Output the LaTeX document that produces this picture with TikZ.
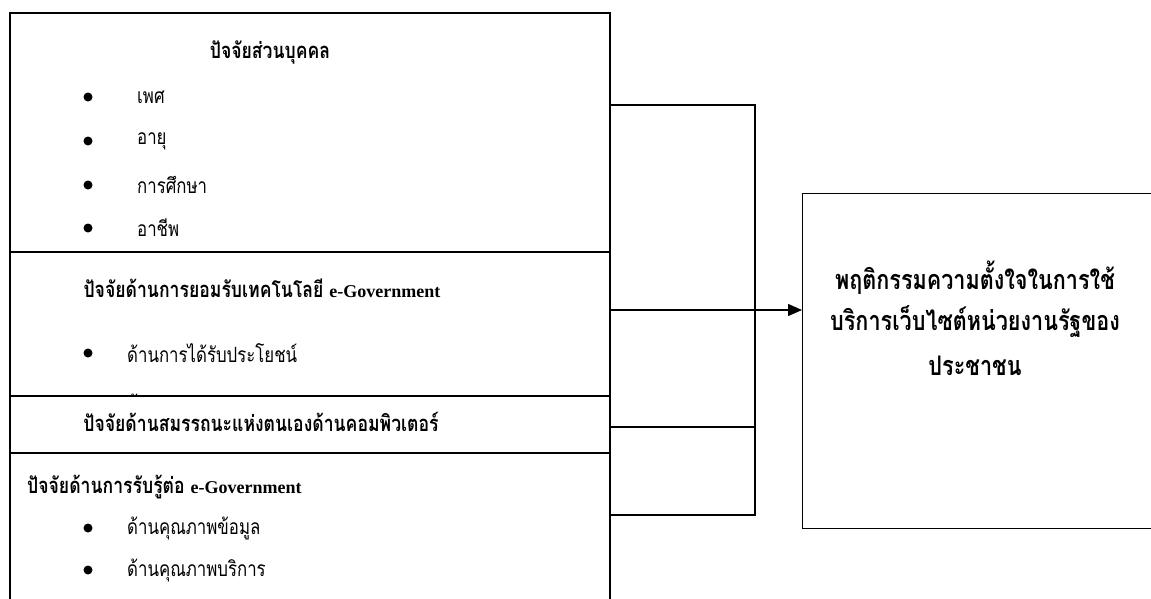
\documentclass[tikz,border=0pt]{standalone}
\usepackage{fontspec}
\setmainfont{Liberation Serif}
\newfontfamily\thai[Script=Thai,FakeStretch=0.8]{Loma}
\usetikzlibrary{arrows.meta}
\newcommand{\eg}{{\normalfont\bfseries\fontsize{18}{21}\selectfont e-Government}}
\begin{document}
\begin{tikzpicture}[x=1pt,y=-1pt,
  ln/.style={line width=1.3pt},
  ttl/.style={font=\thai\bfseries\fontsize{22}{26}\selectfont, inner sep=0},
  big/.style={font=\thai\bfseries\fontsize{27}{32}\selectfont, inner sep=0},
  itm/.style={font=\thai\fontsize{21}{25}\selectfont, anchor=west, inner sep=0},
  dot/.style={circle, fill, inner sep=0, minimum size=9pt}]
\useasboundingbox (0,0) rectangle (1151,598);
% left box
\draw[ln] (10,610) -- (10,13) -- (610,13) -- (610,610);
\draw[ln] (10,252) -- (610,252);
\draw[ln] (10,396) -- (610,396);
\draw[ln] (10,453) -- (610,453);
% section 1
\node[ttl] (t1) at (270,52) {ปัจจัยส่วนบุคคล};
\node[dot] (b11) at (88,97) {};
\node[itm] (i11) at (137,97) {เพศ};
\node[dot] (b12) at (88,141) {};
\node[itm] (i12) at (137,141) {อายุ};
\node[dot] (b13) at (88,185) {};
\node[itm] (i13) at (137,185) {การศึกษา};
\node[dot] (b14) at (88,228) {};
\node[itm] (i14) at (137,228) {อาชีพ};
% section 2
\node[ttl] (t2) at (262,288) {ปัจจัยด้านการยอมรับเทคโนโลยี \eg};
\node[dot] (b21) at (88,353) {};
\node[itm] (i21) at (127,353) {ด้านการได้รับประโยชน์};
\begin{scope}
\clip (11,384) rectangle (609,395);
\node[dot] (b22) at (88,400) {};
\node[itm, anchor=base west] (i22) at (127,411) {ด้าน};
\end{scope}
% section 3
\node[ttl] (t3) at (261,422) {ปัจจัยด้านสมรรถนะแห่งตนเองด้านคอมพิวเตอร์};
% section 4
\node[ttl, anchor=west] (t4) at (27,487) {ปัจจัยด้านการรับรู้ต่อ \eg};
\node[dot] (b41) at (88,528) {};
\node[itm] (i41) at (127,528) {ด้านคุณภาพข้อมูล};
\node[dot] (b42) at (88,570) {};
\node[itm] (i42) at (127,570) {ด้านคุณภาพบริการ};
% outcome box
\node[draw, ln, anchor=north west, minimum width=400pt, minimum height=335pt, inner sep=0] (out) at (802,193) {};
\node[big] (o1) at (975,278) {พฤติกรรมความตั้งใจในการใช้};
\node[big] (o2) at (975,322) {บริการเว็บไซต์หน่วยงานรัฐของ};
\node[big] (o3) at (975,366) {ประชาชน};
% connectors
\coordinate (c1) at (610,105);
\coordinate (c2) at (610,310);
\coordinate (c3) at (610,427);
\coordinate (c4) at (610,515);
\coordinate (j1) at (755,105);
\coordinate (j4) at (755,515);
\draw[ln] (c1) -- (j1) -- (j4) -- (c4);
\draw[ln] (c3) -- (c3 -| j1);
\draw[ln, -{Triangle[length=14pt,width=12pt]}] (c2) -- (c2 -| out.west);
\end{tikzpicture}
\end{document}
